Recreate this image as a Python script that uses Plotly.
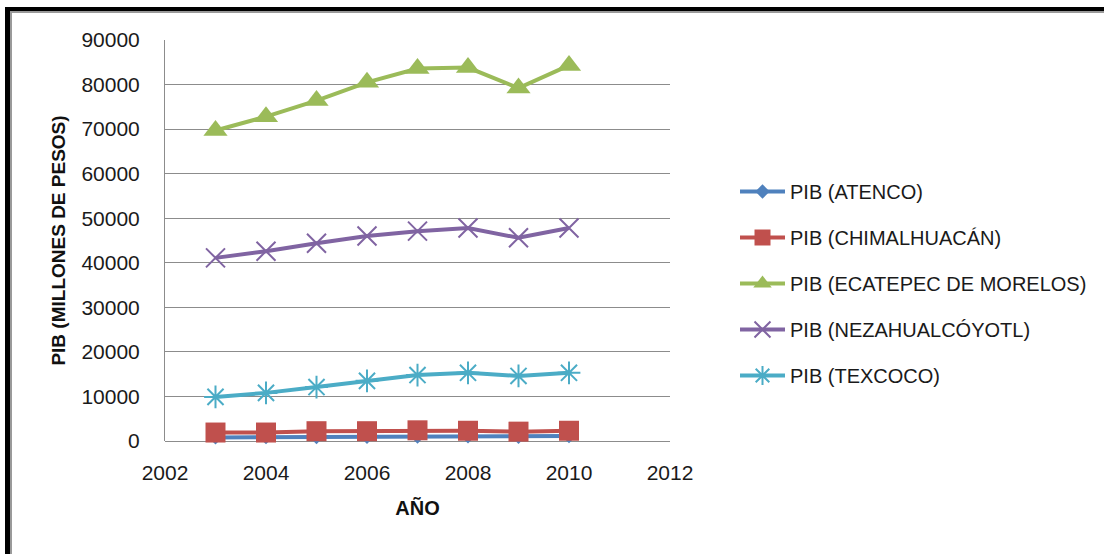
import plotly.graph_objects as go

years = [2003, 2004, 2005, 2006, 2007, 2008, 2009, 2010]
atenco = [800, 850, 900, 950, 1000, 1050, 950, 1100]
chimalhuacan = [1900, 1900, 2200, 2200, 2400, 2300, 2100, 2300]
ecatepec = [69700, 72800, 76400, 80500, 83600, 83800, 79200, 84300]
neza = [41100, 42600, 44400, 46000, 47100, 47800, 45600, 47800]
texcoco = [9900, 10800, 12100, 13500, 14800, 15300, 14600, 15300]

names = ["PIB (ATENCO)", "PIB (CHIMALHUACÁN)", "PIB (ECATEPEC DE MORELOS)",
         "PIB (NEZAHUALCÓYOTL)", "PIB (TEXCOCO)"]
series = [atenco, chimalhuacan, ecatepec, neza, texcoco]
colors = ["#4F81BD", "#C0504D", "#9BBB59", "#8064A2", "#4BACC6"]
symbols = ["diamond", "square", "triangle-up", "x-thin", "asterisk"]
sizes = [11, 20, 21, 19, 19]

W, H = 1104, 554
L, R, T, B = 165, 670, 40, 441

fig = go.Figure()
for i, (nm, ys, c, s, sz) in enumerate(zip(names, series, colors, symbols, sizes)):
    thin = s in ("x-thin", "asterisk")
    fig.add_trace(go.Scatter(
        x=years, y=ys, name=nm, mode="lines+markers",
        line=dict(color=c, width=4),
        marker=dict(symbol=s, size=sz, color=c,
                    line=dict(color=c, width=2 if thin else 0)),
        cliponaxis=False, legendgroup=str(i),
    ))

def px_x(p):
    return (p - L) / (R - L)

def px_y(p):
    return (B - p) / (B - T)

shapes = [
    dict(type="rect", xref="paper", yref="paper", x0=px_x(5), x1=px_x(10), y0=px_y(554), y1=px_y(7),
         fillcolor="black", line=dict(width=0), layer="above"),
    dict(type="rect", xref="paper", yref="paper", x0=px_x(5), x1=px_x(1104), y0=px_y(11), y1=px_y(7),
         fillcolor="black", line=dict(width=0), layer="above"),
    dict(type="rect", xref="paper", yref="paper", x0=px_x(10), x1=px_x(12), y0=px_y(554), y1=px_y(11),
         fillcolor="#9a9a9a", line=dict(width=0), layer="above"),
    dict(type="rect", xref="paper", yref="paper", x0=px_x(10), x1=px_x(1104), y0=px_y(13), y1=px_y(11),
         fillcolor="#9a9a9a", line=dict(width=0), layer="above"),
]

font_fam = "Liberation Sans, Arial, sans-serif"
fig.update_layout(
    width=W, height=H,
    margin=dict(l=L, r=W - R, t=T, b=H - B, pad=0),
    paper_bgcolor="white", plot_bgcolor="white",
    font=dict(family=font_fam, size=21, color="#1a1a1a"),
    showlegend=True,
    legend=dict(x=px_x(735), y=px_y(172), xanchor="left", yanchor="top",
                font=dict(size=20, color="#1a1a1a"), tracegroupgap=17,
                bgcolor="rgba(0,0,0,0)", itemwidth=45),
    shapes=shapes,
    xaxis=dict(range=[2002, 2012], dtick=2, tick0=2002, showgrid=False, zeroline=False,
               showline=False, ticks="", ticklabelstandoff=17,
               tickfont=dict(size=21, color="#1a1a1a"),
               title=dict(text="<b>AÑO</b>", font=dict(size=20, color="#111"), standoff=17)),
    yaxis=dict(range=[0, 90000], dtick=10000, showgrid=True, gridcolor="#8c8c8c", gridwidth=1,
               zeroline=True, zerolinecolor="#8c8c8c", zerolinewidth=1,
               showline=True, linecolor="#8c8c8c", linewidth=1, ticks="",
               ticklabelstandoff=20, tickformat="d",
               tickfont=dict(size=21, color="#1a1a1a"),
               title=dict(text="<b>PIB (MILLONES DE PESOS)</b>", font=dict(size=19, color="#111"), standoff=10)),
)

fig.write_html("out.html", config={"displayModeBar": False},
               post_script="document.body.style.margin='0';document.body.style.padding='0';")
